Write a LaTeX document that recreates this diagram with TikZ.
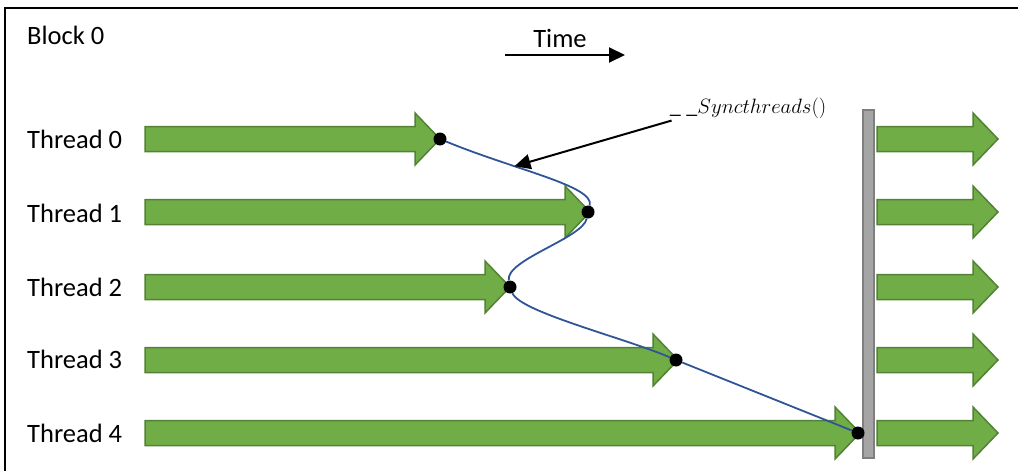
\documentclass[tikz,border=0pt]{standalone}
\usepackage{fontspec}
\setmainfont{Carlito}
\usepackage{tikz}
\usetikzlibrary{arrows.meta, positioning}
\usepackage{xcolor}
\definecolor{workgreen}{HTML}{70AD47}
\definecolor{workedge}{HTML}{538135}
\definecolor{barfill}{HTML}{A5A5A5}
\definecolor{baredge}{HTML}{7F7F7F}
\definecolor{syncblue}{HTML}{2F5597}

\begin{document}
\begin{tikzpicture}[x=1pt,y=-1pt]
    \tikzstyle{rowtext}=[anchor=west,inner sep=0pt,font=\fontsize{26.5}{30}\selectfont]
    \tikzstyle{work}=[fill=workgreen,draw=workedge,line width=1.5pt,line join=miter]
    \tikzstyle{syncdot}=[shape=circle,fill=black,inner sep=0pt,minimum size=13pt]
    \tikzstyle{syncline}=[draw=syncblue,line width=1.8pt]
    \tikzstyle{pointer}=[line width=2pt,-{Triangle[length=16pt,width=15pt]}]

    \useasboundingbox (0,0) rectangle (1018,471);
    % frame of the block, open to the right and below
    \draw[line width=2.5pt] (5,471) -- (5,8) -- (1018,8);

    \node[rowtext] (blk) at (27,35) {Block 0};
    \node[font=\fontsize{26.5}{30}\selectfont,inner sep=0pt] (time) at (560,38) {Time};
    \coordinate (ts) at (505,55);
    \coordinate (te) at (625,55);
    \draw[pointer] (ts) -- (te);

    \node[rowtext] (t0) at (27,139) {Thread 0};
    \node[rowtext] (t1) at (27,213) {Thread 1};
    \node[rowtext] (t2) at (27,287) {Thread 2};
    \node[rowtext] (t3) at (27,359) {Thread 3};
    \node[rowtext] (t4) at (27,433) {Thread 4};

    % work done by each thread before the barrier
    \foreach \y/\tip in {139/440, 212/590, 287/510, 360/678, 433/860}
        \path[work] (145,\y-12.5) -- (\tip-25,\y-12.5) -- (\tip-25,\y-26) -- (\tip,\y)
            -- (\tip-25,\y+26) -- (\tip-25,\y+12.5) -- (145,\y+12.5) -- cycle;

    % barrier
    \path[fill=barfill,draw=baredge,line width=1.5pt] (863,110) rectangle (874,458);

    % work after the barrier
    \foreach \y in {139, 212, 287, 360, 433}
        \path[work] (877,\y-12.5) -- (973,\y-12.5) -- (973,\y-26) -- (998,\y)
            -- (973,\y+26) -- (973,\y+12.5) -- (877,\y+12.5) -- cycle;

    \node[syncdot] (d0) at (440,139) {};
    \node[syncdot] (d1) at (588,212) {};
    \node[syncdot] (d2) at (510,287) {};
    \node[syncdot] (d3) at (676,360) {};
    \node[syncdot] (d4) at (858,433) {};

    \path[syncline]
    (d0) .. controls (515,170) and (595,186) .. (d1) coordinate[pos=0.33] (hit)
    (d1) .. controls (583,238) and (505,260) .. (d2)
    (d2) .. controls (520,312) and (625,338) .. (d3)
    (d3) -- (d4);

    \node[font=\fontsize{22}{26}\selectfont,inner sep=2pt] (sync) at (748,108) {$\_\;\_Syncthreads()$};
    \draw[pointer] ([xshift=4pt]sync.south west) -- (hit);
\end{tikzpicture}
\end{document}
